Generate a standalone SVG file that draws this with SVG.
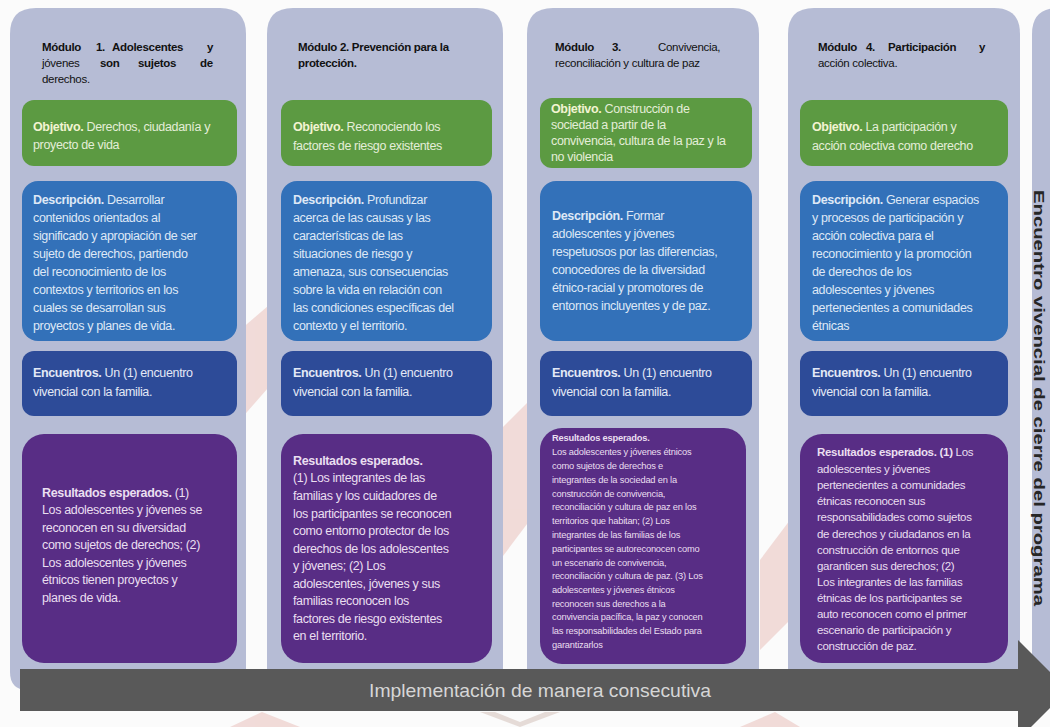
<svg xmlns="http://www.w3.org/2000/svg" width="1050" height="727" viewBox="0 0 1050 727">
<style>
.panel{fill:#b6bcd5}
.obj{fill:#5c9a42}
.desc{fill:#3371b9}
.enc{fill:#2d4b98}
.res{fill:#582d85}
text{font-family:"Liberation Sans",Arial,sans-serif}
.hd{font-size:11.5px;fill:#111;letter-spacing:-0.3px}
.b{font-weight:bold}
.t{font-size:12.5px;letter-spacing:-0.35px}
.tg{fill:#e4eed8}
.tg .b{fill:#f2f4d2}
.tb{fill:#dfe8f6}
.te{fill:#e3e8f6}
.tp{fill:#eadff0}
.wm{opacity:0.16}
</style>
<rect width="1050" height="727" fill="#fbfbfb"/>
<g id="watermark" class="wm">
<polygon points="240,330 275,300 275,380 240,420" fill="#c0392b"/>
<polygon points="500,430 530,400 530,520 500,560" fill="#c0392b"/>
<polygon points="760,560 790,520 790,620 760,650" fill="#c0392b"/>
<polygon points="230,727 262,712 300,727" fill="#c0392b"/>
<polygon points="480,712 520,727 560,712 545,712 520,722 495,712" fill="#7a3b20"/>
<polygon points="740,727 775,712 800,727" fill="#c0392b"/>
</g>
<g id="col1">
<path class="panel" d="M10,34 Q10,8 36,8 H220 Q246,8 246,34 V690 H28 Q10,690 10,672 Z"/>
<text class="hd b" y="51"><tspan x="42">Módulo</tspan><tspan x="96">1.</tspan><tspan x="112">Adolescentes</tspan><tspan x="207">y</tspan></text>
<text class="hd" y="67"><tspan x="42">jóvenes</tspan><tspan class="b" x="100">son</tspan><tspan class="b" x="138">sujetos</tspan><tspan class="b" x="200">de</tspan></text>
<text class="hd" x="42" y="83">derechos.</text>
<rect class="obj" x="22" y="100" width="215" height="66" rx="12"/>
<text class="t tg" x="33"><tspan x="33" y="131"><tspan class="b">Objetivo.</tspan> Derechos, ciudadanía y</tspan><tspan x="33" y="149">proyecto de vida</tspan></text>
<rect class="desc" x="22" y="181" width="215" height="160" rx="16"/>
<text class="t tb" x="33"><tspan x="33" y="204"><tspan class="b">Descripción.</tspan> Desarrollar</tspan><tspan x="33" y="222">contenidos orientados al</tspan><tspan x="33" y="240">significado y apropiación de ser</tspan><tspan x="33" y="258">sujeto de derechos, partiendo</tspan><tspan x="33" y="276">del reconocimiento de los</tspan><tspan x="33" y="294">contextos y territorios en los</tspan><tspan x="33" y="312">cuales se desarrollan sus</tspan><tspan x="33" y="330">proyectos y planes de vida.</tspan></text>
<rect class="enc" x="22" y="351" width="215" height="65" rx="12"/>
<text class="t te" x="33"><tspan x="33" y="377"><tspan class="b">Encuentros.</tspan> Un (1) encuentro</tspan><tspan x="33" y="396">vivencial con la familia.</tspan></text>
<rect class="res" x="22" y="434" width="215" height="229" rx="22"/>
<text class="t tp" x="42"><tspan x="42" y="497"><tspan class="b">Resultados esperados.</tspan> (1)</tspan><tspan x="42" y="514">Los adolescentes y jóvenes se</tspan><tspan x="42" y="532">reconocen en su diversidad</tspan><tspan x="42" y="549">como sujetos de derechos; (2)</tspan><tspan x="42" y="567">Los adolescentes y jóvenes</tspan><tspan x="42" y="584">étnicos tienen proyectos y</tspan><tspan x="42" y="602">planes de vida.</tspan></text>
</g>
<g id="col2">
<path class="panel" d="M267,34 Q267,8 293,8 H477 Q503,8 503,34 V690 H267 Z"/>
<text class="hd b" x="298" y="51">Módulo 2. Prevención para la</text>
<text class="hd b" x="298" y="67">protección.</text>
<rect class="obj" x="281" y="100" width="211" height="66" rx="12"/>
<text class="t tg"><tspan x="293" y="131"><tspan class="b">Objetivo.</tspan> Reconociendo los</tspan><tspan x="293" y="150">factores de riesgo existentes</tspan></text>
<rect class="desc" x="281" y="181" width="211" height="160" rx="16"/>
<text class="t tb"><tspan x="293" y="204"><tspan class="b">Descripción.</tspan> Profundizar</tspan><tspan x="293" y="222">acerca de las causas y las</tspan><tspan x="293" y="240">características de las</tspan><tspan x="293" y="258">situaciones de riesgo y</tspan><tspan x="293" y="276">amenaza, sus consecuencias</tspan><tspan x="293" y="294">sobre la vida en relación con</tspan><tspan x="293" y="312">las condiciones específicas del</tspan><tspan x="293" y="330">contexto y el territorio.</tspan></text>
<rect class="enc" x="281" y="351" width="211" height="65" rx="12"/>
<text class="t te"><tspan x="293" y="377"><tspan class="b">Encuentros.</tspan> Un (1) encuentro</tspan><tspan x="293" y="396">vivencial con la familia.</tspan></text>
<rect class="res" x="281" y="434" width="211" height="229" rx="22"/>
<text class="t tp"><tspan x="293" y="465" class="b">Resultados esperados.</tspan><tspan x="293" y="482">(1) Los integrantes de las</tspan><tspan x="293" y="500">familias y los cuidadores de</tspan><tspan x="293" y="518">los participantes se reconocen</tspan><tspan x="293" y="535">como entorno protector de los</tspan><tspan x="293" y="553">derechos de los adolescentes</tspan><tspan x="293" y="570">y jóvenes; (2) Los</tspan><tspan x="293" y="588">adolescentes, jóvenes y sus</tspan><tspan x="293" y="605">familias reconocen los</tspan><tspan x="293" y="623">factores de riesgo existentes</tspan><tspan x="293" y="640">en el territorio.</tspan></text>
</g>
<g id="col3">
<path class="panel" d="M527,34 Q527,8 553,8 H733 Q759,8 759,34 V690 H527 Z"/>
<text class="hd" y="51"><tspan class="b" x="555">Módulo</tspan><tspan class="b" x="612">3.</tspan><tspan x="658">Convivencia,</tspan></text>
<text class="hd" x="555" y="67">reconciliación y cultura de paz</text>
<rect class="obj" x="540" y="98" width="212" height="70" rx="12"/>
<text class="t tg"><tspan x="551" y="113"><tspan class="b">Objetivo.</tspan> Construcción de</tspan><tspan x="551" y="129">sociedad a partir de la</tspan><tspan x="551" y="145">convivencia, cultura de la paz y la</tspan><tspan x="551" y="161">no violencia</tspan></text>
<rect class="desc" x="540" y="181" width="212" height="160" rx="16"/>
<text class="t tb"><tspan x="552" y="220"><tspan class="b">Descripción.</tspan> Formar</tspan><tspan x="552" y="238">adolescentes y jóvenes</tspan><tspan x="552" y="256">respetuosos por las diferencias,</tspan><tspan x="552" y="274">conocedores de la diversidad</tspan><tspan x="552" y="292">étnico-racial y promotores de</tspan><tspan x="552" y="310">entornos incluyentes y de paz.</tspan></text>
<rect class="enc" x="540" y="351" width="212" height="65" rx="12"/>
<text class="t te"><tspan x="552" y="377"><tspan class="b">Encuentros.</tspan> Un (1) encuentro</tspan><tspan x="552" y="396">vivencial con la familia.</tspan></text>
<rect class="res" x="540" y="428" width="206" height="236" rx="22"/>
<text class="tp" font-size="9.3" letter-spacing="-0.2"><tspan x="552" y="441" class="b">Resultados esperados.</tspan><tspan x="552" y="455">Los adolescentes y jóvenes étnicos</tspan><tspan x="552" y="469">como sujetos de derechos e</tspan><tspan x="552" y="483">integrantes de la sociedad en la</tspan><tspan x="552" y="497">construcción de convivencia,</tspan><tspan x="552" y="510">reconciliación y cultura de paz en los</tspan><tspan x="552" y="524">territorios que habitan; (2) Los</tspan><tspan x="552" y="538">integrantes de las familias de los</tspan><tspan x="552" y="552">participantes se autoreconocen como</tspan><tspan x="552" y="566">un escenario de convivencia,</tspan><tspan x="552" y="579">reconciliación y cultura de paz. (3) Los</tspan><tspan x="552" y="593">adolescentes y jóvenes étnicos</tspan><tspan x="552" y="607">reconocen sus derechos a la</tspan><tspan x="552" y="620">convivencia pacífica, la paz y conocen</tspan><tspan x="552" y="634">las responsabilidades del Estado para</tspan><tspan x="552" y="648">garantizarlos</tspan></text>
</g>
<g id="col4">
<path class="panel" d="M788,34 Q788,8 814,8 H994 Q1020,8 1020,34 V690 H788 Z"/>
<text class="hd b" y="51"><tspan x="818">Módulo</tspan><tspan x="866">4.</tspan><tspan x="888">Participación</tspan><tspan x="979">y</tspan></text>
<text class="hd" x="818" y="67">acción colectiva.</text>
<rect class="obj" x="800" y="100" width="208" height="66" rx="12"/>
<text class="t tg"><tspan x="812" y="131"><tspan class="b">Objetivo.</tspan> La participación y</tspan><tspan x="812" y="150">acción colectiva como derecho</tspan></text>
<rect class="desc" x="800" y="181" width="208" height="160" rx="16"/>
<text class="t tb"><tspan x="812" y="204"><tspan class="b">Descripción.</tspan> Generar espacios</tspan><tspan x="812" y="222">y procesos de participación y</tspan><tspan x="812" y="240">acción colectiva para el</tspan><tspan x="812" y="258">reconocimiento y la promoción</tspan><tspan x="812" y="276">de derechos de los</tspan><tspan x="812" y="294">adolescentes y jóvenes</tspan><tspan x="812" y="312">pertenecientes a comunidades</tspan><tspan x="812" y="330">étnicas</tspan></text>
<rect class="enc" x="800" y="351" width="208" height="65" rx="12"/>
<text class="t te"><tspan x="812" y="377"><tspan class="b">Encuentros.</tspan> Un (1) encuentro</tspan><tspan x="812" y="396">vivencial con la familia.</tspan></text>
<rect class="res" x="800" y="434" width="208" height="229" rx="22"/>
<text class="tp" font-size="11.5" letter-spacing="-0.3"><tspan x="817" y="456"><tspan class="b">Resultados esperados. (1)</tspan> Los</tspan><tspan x="817" y="473">adolescentes y jóvenes</tspan><tspan x="817" y="489">pertenecientes a comunidades</tspan><tspan x="817" y="505">étnicas reconocen sus</tspan><tspan x="817" y="521">responsabilidades como sujetos</tspan><tspan x="817" y="538">de derechos y ciudadanos en la</tspan><tspan x="817" y="554">construcción de entornos que</tspan><tspan x="817" y="570">garanticen sus derechos; (2)</tspan><tspan x="817" y="586">Los integrantes de las familias</tspan><tspan x="817" y="602">étnicas de los participantes se</tspan><tspan x="817" y="618">auto reconocen como el primer</tspan><tspan x="817" y="634">escenario de participación y</tspan><tspan x="817" y="650">construcción de paz.</tspan></text>
</g>
<g id="cierre">
<path class="panel" d="M1032,34 Q1032,8 1058,8 H1060 V700 H1032 Z"/>
<text transform="translate(1034,398) rotate(90)" text-anchor="middle" font-size="14" font-weight="bold" fill="#262626" textLength="416" lengthAdjust="spacingAndGlyphs">Encuentro vivencial de cierre del programa</text>
</g>
<g id="connectors">
<path d="M20,669 H1018 V640 L1068,690 L1018,740 V711 H20 Z" fill="#595959"/>
<text x="540" y="697" text-anchor="middle" font-size="19" fill="#d6d6d6" textLength="342" lengthAdjust="spacingAndGlyphs">Implementación de manera consecutiva</text>
</g>
</svg>
